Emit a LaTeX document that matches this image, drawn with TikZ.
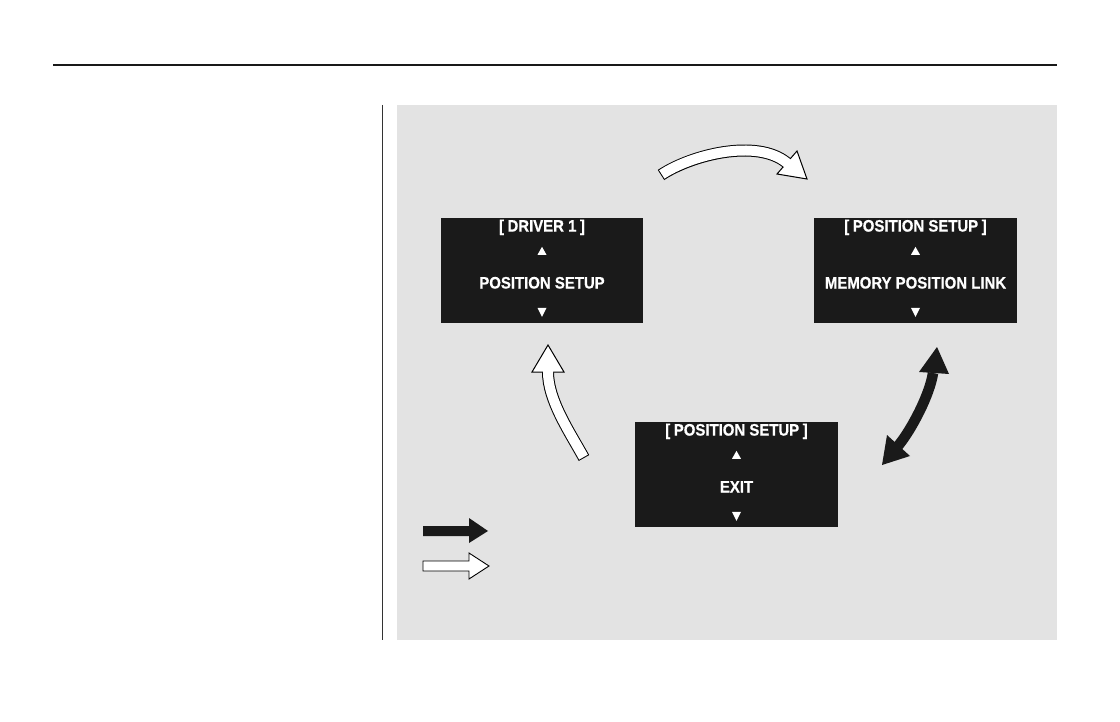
\documentclass[tikz,border=0pt]{standalone}
\usepackage{fontspec}
\newfontfamily\dispfont{Liberation Sans}[FakeStretch=0.9, FakeBold=0.6]
\usetikzlibrary{calc}
\definecolor{panel}{HTML}{E3E3E3}
\definecolor{scr}{HTML}{1A1A1A}
\tikzset{
  screen/.style={fill=scr, draw=none, minimum width=202pt, minimum height=105pt, inner sep=0pt},
  stxt/.style={text=white, font=\dispfont\bfseries\fontsize{16.6}{18}\selectfont, inner sep=0pt, anchor=center},
  wout/.style={draw=black, line width=12pt},
  win/.style={draw=white, line width=10pt},
  whead/.style={fill=white, draw=black, line width=1pt, line join=miter},
  bshaft/.style={draw=scr, line width=10.5pt},
  bhead/.style={fill=scr, draw=none}
}
\newcommand{\uptri}[2]{\fill[white] ($(#1.north)+(-4.5,#2+8)$) -- ($(#1.north)+(0,#2)$) -- ($(#1.north)+(4.5,#2+8)$) -- cycle;}
\newcommand{\dntri}[2]{\fill[white] ($(#1.north)+(-4.5,#2)$) -- ($(#1.north)+(0,#2+9)$) -- ($(#1.north)+(4.5,#2)$) -- cycle;}
\begin{document}
\begin{tikzpicture}[x=1pt,y=-1pt]
\useasboundingbox[fill=white] (0,0) rectangle (1120,722);
% header rule and side line
\draw[line width=1.6pt, black!90] (53,65) -- (1057,65);
\draw[line width=0.8pt, black!80] (382,105) -- (382,640);
% panel
\fill[panel] (397,105) rectangle (1057,640);
% screens
\node[screen] (b1) at (542,270.5) {};
\node[screen, minimum width=203pt] (b2) at (915.5,270.5) {};
\node[screen, minimum width=203pt] (b3) at (736.5,474.5) {};
% screen texts
\node[stxt] (t1a) at ($(b1.north)+(0,9.5)$) {[\hspace{3.5pt}DRIVER 1\hspace{3.5pt}]};
\node[stxt] (t1b) at ($(b1.north)+(0,65)$) {POSITION SETUP};
\uptri{b1}{29}\dntri{b1}{90}
\node[stxt] (t2a) at ($(b2.north)+(0,9.5)$) {[\hspace{3.5pt}POSITION SETUP\hspace{3.5pt}]};
\node[stxt] (t2b) at ($(b2.north)+(0,65)$) {MEMORY POSITION LINK};
\uptri{b2}{29}\dntri{b2}{90}
\node[stxt] (t3a) at ($(b3.north)+(0,9.5)$) {[\hspace{3.5pt}POSITION SETUP\hspace{3.5pt}]};
\node[stxt] (t3b) at ($(b3.north)+(0,65)$) {EXIT};
\uptri{b3}{29}\dntri{b3}{90}
% top white arrow (b1 -> b2)
\coordinate (a1s) at (661,175);
\coordinate (a1e) at (787,163);
\coordinate (a1x) at (788.6,164.3);
\draw[wout] (a1s) .. controls (691,155) and (757,138) .. (a1e);
\filldraw[whead] (797,151) -- (807,179) -- (777,174) -- cycle;
\draw[win, shorten <=1pt] (a1s) .. controls (691,155) and (757,138) .. (a1e) -- (a1x);
% left white arrow (b3 -> b1)
\coordinate (a2s) at (584,458);
\coordinate (a2e) at (548,372);
\coordinate (a2x) at (548,370.3);
\draw[wout] (a2s) .. controls (569,431) and (548,400) .. (a2e);
\filldraw[whead] (532,372) -- (548,345) -- (564,372) -- cycle;
\draw[win, shorten <=1pt] (a2s) .. controls (569,431) and (548,400) .. (a2e) -- (a2x);
% right black double arrow (b2 <-> b3)
\coordinate (a3s) at (898,446);
\coordinate (a3e) at (933,373);
\draw[bshaft] (a3s) .. controls (912,429) and (930,394) .. (a3e);
\fill[bhead] (919,372) -- (937,347) -- (949,374) -- cycle;
\fill[bhead] (887,435) -- (882,465) -- (910,456) -- cycle;
% legend arrows
\fill[scr] (423,526) -- (469,526) -- (469,518) -- (488,531) -- (469,543) -- (469,536) -- (423,536) -- cycle;
\filldraw[fill=white, draw=black, line width=0.9pt, line join=miter] (423,561) -- (469,561) -- (469,553) -- (489,566) -- (469,579) -- (469,571) -- (423,571) -- cycle;
\end{tikzpicture}
\end{document}
